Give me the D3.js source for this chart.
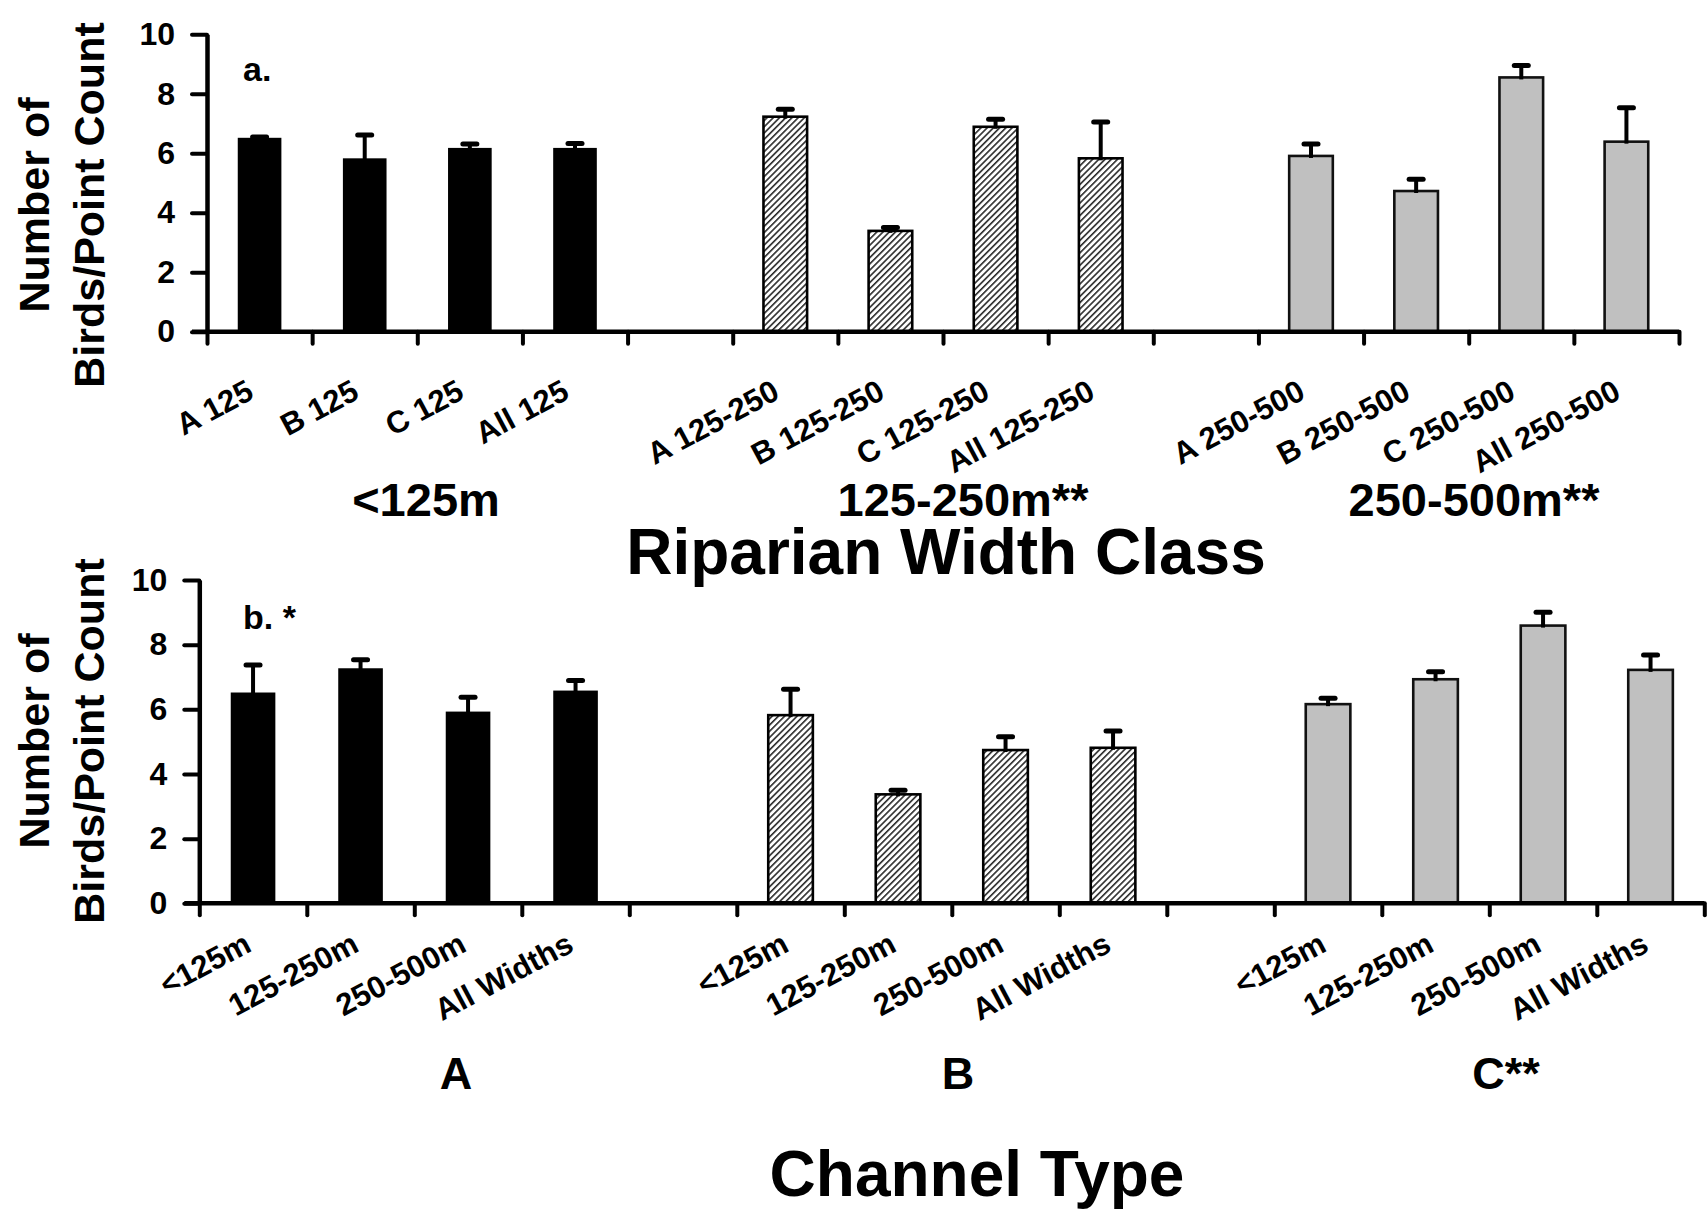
<!DOCTYPE html>
<html>
<head>
<meta charset="utf-8">
<script src="https://cdn.jsdelivr.net/npm/d3@7"></script>
<style>
  html, body { margin: 0; padding: 0; background: #fff; }
  svg { display: block; font-family: "Liberation Sans", Arial, Helvetica, sans-serif; font-weight: bold; }
</style>
</head>
<body>
<svg id="chart" width="1708" height="1215"></svg>
<script>
// ---------------- data ----------------
const yTicks = [0, 2, 4, 6, 8, 10];

// panel a: Riparian width class
const topGroups = ["<125m", "125-250m**", "250-500m**"];
const topTickLabels = [
  ["A 125", "B 125", "C 125", "All 125"],
  ["A 125-250", "B 125-250", "C 125-250", "All 125-250"],
  ["A 250-500", "B 250-500", "C 250-500", "All 250-500"]
];
const topMeans = [
  [6.52, 5.83, 6.18, 6.18],
  [7.23, 3.39, 6.89, 5.83],
  [5.91, 4.73, 8.55, 6.39]
];
const topErrors = [
  [0.03, 0.78, 0.13, 0.15],
  [0.25, 0.11, 0.25, 1.22],
  [0.40, 0.40, 0.40, 1.14]
];

// panel b: Channel type
const bottomGroups = ["A", "B", "C**"];
const bottomTickLabels = ["<125m", "125-250m", "250-500m", "All Widths"];
const bottomMeans = [
  [6.52, 7.27, 5.93, 6.58],
  [5.82, 3.37, 4.74, 4.81],
  [6.16, 6.93, 8.59, 7.22]
];
const bottomErrors = [
  [0.85, 0.26, 0.44, 0.31],
  [0.80, 0.13, 0.41, 0.52],
  [0.18, 0.23, 0.41, 0.46]
];

// ---------------- drawing ----------------
const svg = d3.select("#chart");
const FONT = '"Liberation Sans", Arial, Helvetica, sans-serif';

// hatch pattern
const defs = svg.append("defs");
const pat = defs.append("pattern")
  .attr("id", "hatch")
  .attr("patternUnits", "userSpaceOnUse")
  .attr("width", 4.4).attr("height", 4.4)
  .attr("patternTransform", "rotate(45)");
pat.append("rect").attr("width", 4.4).attr("height", 4.4).attr("fill", "#ffffff");
pat.append("rect").attr("x", 0).attr("y", 0).attr("width", 1.6).attr("height", 4.4).attr("fill", "#2a2a2a");

const groupFill = ["#000000", "url(#hatch)", "#c0c0c0"];
const groupStroke = [null, "#000", "#111"];

function drawPanel(cfg) {
  const nSlots = 14;
  const g = svg.append("g");
  const y = d3.scaleLinear().domain([0, 10]).range([cfg.y0, cfg.y10]);
  const slot = d3.scaleLinear().domain([0, nSlots]).range([cfg.x0, cfg.x1]);
  const band = d3.scaleBand().domain(d3.range(nSlots)).range([cfg.x0, cfg.x1]).padding(0);
  const bw = band.bandwidth() * 0.415;

  const items = [];
  cfg.means.forEach((arr, gi) => arr.forEach((v, i) => {
    items.push({
      slot: gi * 5 + i, group: gi, value: v, err: cfg.errors[gi][i],
      label: typeof cfg.tickLabels[0] === "string" ? cfg.tickLabels[i] : cfg.tickLabels[gi][i]
    });
  }));

  // bars
  g.selectAll("rect.bar").data(items).join("rect")
    .attr("class", "bar")
    .attr("x", d => band(d.slot) + (band.bandwidth() - bw) / 2)
    .attr("width", bw)
    .attr("y", d => y(d.value))
    .attr("height", d => y(0) - y(d.value))
    .attr("fill", d => groupFill[d.group])
    .attr("stroke", d => groupStroke[d.group])
    .attr("stroke-width", d => d.group === 0 ? 0 : 2.6);

  // error bars
  const eb = g.selectAll("g.err").data(items).join("g").attr("class", "err");
  eb.append("line")
    .attr("x1", d => band(d.slot) + band.bandwidth() / 2)
    .attr("x2", d => band(d.slot) + band.bandwidth() / 2)
    .attr("y1", d => y(d.value) + 2)
    .attr("y2", d => y(d.value + d.err))
    .attr("stroke", "#000").attr("stroke-width", 4);
  eb.append("line")
    .attr("x1", d => band(d.slot) + band.bandwidth() / 2 - 7)
    .attr("x2", d => band(d.slot) + band.bandwidth() / 2 + 7)
    .attr("y1", d => y(d.value + d.err))
    .attr("y2", d => y(d.value + d.err))
    .attr("stroke", "#000").attr("stroke-width", 5).attr("stroke-linecap", "round");

  // y axis
  const yAxis = g.append("g")
    .attr("transform", `translate(${cfg.x0},0)`)
    .call(d3.axisLeft(y).tickValues(yTicks).tickSize(15).tickSizeOuter(0).tickPadding(17).tickFormat(d3.format("d")));
  yAxis.select(".domain").attr("stroke", "#000").attr("stroke-width", 4.5);
  yAxis.selectAll(".tick line").attr("stroke", "#000").attr("stroke-width", 4).attr("stroke-linecap", "round");
  yAxis.selectAll(".tick text")
    .attr("fill", "#000").style("font-family", FONT).style("font-weight", "bold").style("font-size", "32px");

  // x axis (ticks at slot boundaries)
  const xAxis = g.append("g")
    .attr("transform", `translate(0,${cfg.y0})`)
    .call(d3.axisBottom(slot).tickValues(d3.range(nSlots + 1)).tickSize(12).tickSizeOuter(0).tickFormat(""));
  xAxis.select(".domain").remove();
  xAxis.append("line")
    .attr("x1", cfg.x0 - 15).attr("x2", cfg.x1)
    .attr("y1", 0).attr("y2", 0)
    .attr("stroke", "#000").attr("stroke-width", 4.5);
  xAxis.selectAll(".tick line").attr("stroke", "#000").attr("stroke-width", 4).attr("stroke-linecap", "round");

  // rotated tick labels
  g.selectAll("text.xl").data(items).join("text")
    .attr("class", "xl")
    .attr("text-anchor", "end")
    .attr("transform", d => `translate(${band(d.slot) + band.bandwidth() / 2 + cfg.labelDx},${cfg.y0 + cfg.labelDy}) rotate(-28)`)
    .style("font-family", FONT).style("font-weight", "bold").style("font-size", "31px")
    .text(d => d.label);

  // group labels
  g.selectAll("text.gl").data(cfg.groups).join("text")
    .attr("class", "gl")
    .attr("text-anchor", "middle")
    .attr("x", (d, i) => cfg.groupX[i])
    .attr("y", cfg.groupY)
    .style("font-family", FONT).style("font-weight", "bold").style("font-size", cfg.groupSize)
    .text(d => d);

  // panel letter
  g.append("text")
    .attr("x", 243).attr("y", cfg.letterY)
    .style("font-family", FONT).style("font-weight", "bold").style("font-size", "34px")
    .text(cfg.letter);

  // y-axis title
  const yt = g.append("text")
    .attr("transform", `translate(0,${cfg.yTitleCenter}) rotate(-90)`)
    .attr("text-anchor", "middle")
    .style("font-family", FONT).style("font-weight", "bold").style("font-size", "43px");
  yt.append("tspan").attr("x", 0).attr("y", 49).text("Number of");
  yt.append("tspan").attr("x", 0).attr("y", 104).text("Birds/Point Count");
}

drawPanel({
  x0: 207, x1: 1679, y0: 331.7, y10: 34.3,
  means: topMeans, errors: topErrors, tickLabels: topTickLabels,
  groups: topGroups, groupX: [426, 963, 1474], groupY: 516, groupSize: "47px",
  labelDx: -4, labelDy: 66, letter: "a.", letterY: 81, yTitleCenter: 205
});

drawPanel({
  x0: 199.3, x1: 1704.3, y0: 903.3, y10: 580,
  means: bottomMeans, errors: bottomErrors, tickLabels: bottomTickLabels,
  groups: bottomGroups, groupX: [456, 958, 1506], groupY: 1089, groupSize: "45px",
  labelDx: 0, labelDy: 47, letter: "b. *", letterY: 629, yTitleCenter: 741
});

// axis titles
svg.append("text")
  .attr("x", 946).attr("y", 574).attr("text-anchor", "middle")
  .style("font-family", FONT).style("font-weight", "bold").style("font-size", "64px")
  .text("Riparian Width Class");
svg.append("text")
  .attr("x", 977).attr("y", 1196).attr("text-anchor", "middle")
  .style("font-family", FONT).style("font-weight", "bold").style("font-size", "64px")
  .text("Channel Type");
</script>
</body>
</html>
